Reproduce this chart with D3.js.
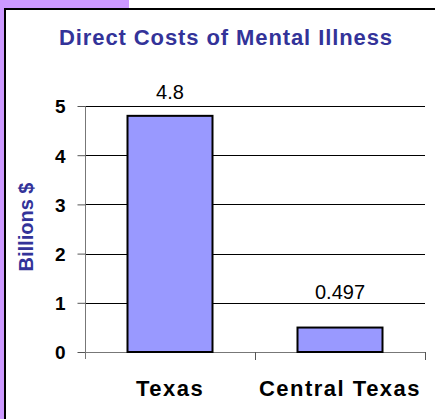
<!DOCTYPE html>
<html>
<head>
<meta charset="utf-8">
<script src="https://cdn.jsdelivr.net/npm/d3@7"></script>
<style>
  html, body { margin: 0; padding: 0; background: #ffffff; }
  svg { display: block; font-family: "Liberation Sans", Arial, sans-serif; }
</style>
</head>
<body>
<div id="chart"></div>
<script>
// Chart data
const categories = ["Texas", "Central Texas"];
const costs = [4.8, 0.497];
const costLabels = ["4.8", "0.497"];
const yTicks = [0, 1, 2, 3, 4, 5];

const width = 435;
const height = 419;
const titleColor = "#333399";
const barColor = "#9999ff";

const svg = d3.select("#chart").append("svg")
  .attr("width", width)
  .attr("height", height);

// Slide background: purple corner and strip, black frame
svg.append("rect").attr("x", 0).attr("y", 0).attr("width", 129).attr("height", 9).attr("fill", "#cc99ff");
svg.append("rect").attr("x", 0).attr("y", 0).attr("width", 5).attr("height", height).attr("fill", "#cc99ff");
svg.append("rect").attr("x", 4).attr("y", 8).attr("width", width - 4).attr("height", 2).attr("fill", "#000");
svg.append("rect").attr("x", 4).attr("y", 8).attr("width", 2).attr("height", height - 8).attr("fill", "#000");

// Scales
const x = d3.scaleBand()
  .domain(categories)
  .range([85, 425])
  .paddingInner(0.5)
  .paddingOuter(0.25);

const y = d3.scaleLinear()
  .domain([0, 5])
  .range([352, 106]);

// Gridlines
svg.append("g")
  .selectAll("line")
  .data(yTicks.filter(d => d > 0))
  .enter()
  .append("line")
  .attr("x1", 85)
  .attr("x2", 425)
  .attr("y1", d => Math.round(y(d)) + 0.5)
  .attr("y2", d => Math.round(y(d)) + 0.5)
  .attr("stroke", "#000")
  .attr("stroke-width", 1);

// Y axis
const yAxis = svg.append("g")
  .attr("transform", "translate(85.5,0)")
  .call(d3.axisLeft(y).tickValues(yTicks).tickSize(8).tickPadding(12).tickFormat(d3.format("d")));
yAxis.select(".domain").attr("d", "M0," + y(5) + "V359").attr("stroke", "#777");
yAxis.selectAll(".tick line").attr("stroke", "#555");
yAxis.selectAll(".tick text")
  .attr("fill", "#000")
  .attr("dy", "0.36em")
  .style("font-size", "19px")
  .style("font-weight", "bold")
  .style("font-family", "Liberation Sans, Arial, sans-serif");

// X axis (baseline + category separators)
svg.append("line")
  .attr("x1", 85).attr("x2", 425)
  .attr("y1", y(0) + 0.5).attr("y2", y(0) + 0.5)
  .attr("stroke", "#777");
svg.append("g")
  .selectAll("line")
  .data([255, 425])
  .enter()
  .append("line")
  .attr("x1", d => d + 0.5).attr("x2", d => d + 0.5)
  .attr("y1", y(0)).attr("y2", y(0) + 8)
  .attr("stroke", "#555");

// Bars
svg.append("g")
  .selectAll("rect")
  .data(categories)
  .enter()
  .append("rect")
  .attr("x", d => x(d))
  .attr("y", (d, i) => y(costs[i]))
  .attr("width", x.bandwidth())
  .attr("height", (d, i) => y(0) - y(costs[i]))
  .attr("fill", barColor)
  .attr("stroke", "#000")
  .attr("stroke-width", 2);

// Value labels - placed above the bar, nudged above a gridline if they would cross it
function labelBaseline(v) {
  let base = y(v) - 17;
  const top = base - 15;
  yTicks.forEach(function (t) {
    const gy = y(t);
    if (t > 0 && gy > top - 2 && gy < base + 3) base = gy - 4;
  });
  return base;
}

svg.append("g")
  .selectAll("text")
  .data(categories)
  .enter()
  .append("text")
  .attr("x", d => x(d) + x.bandwidth() / 2)
  .attr("y", (d, i) => labelBaseline(costs[i]))
  .attr("text-anchor", "middle")
  .style("font-size", "20px")
  .text((d, i) => costLabels[i]);

// Category labels
svg.append("g")
  .selectAll("text")
  .data(categories)
  .enter()
  .append("text")
  .attr("x", d => x(d) + x.bandwidth() / 2)
  .attr("y", 396)
  .attr("text-anchor", "middle")
  .style("font-size", "22px")
  .style("font-weight", "bold")
  .style("letter-spacing", "1.5px")
  .text(d => d);

// Title
svg.append("text")
  .attr("x", 226)
  .attr("y", 45)
  .attr("text-anchor", "middle")
  .attr("fill", titleColor)
  .style("font-size", "22px")
  .style("font-weight", "bold")
  .style("letter-spacing", "0.9px")
  .text("Direct Costs of Mental Illness");

// Y axis title
svg.append("text")
  .attr("transform", "translate(33,227) rotate(-90)")
  .attr("text-anchor", "middle")
  .attr("fill", titleColor)
  .style("font-size", "20px")
  .style("font-weight", "bold")
  .text("Billions $");
</script>
</body>
</html>
